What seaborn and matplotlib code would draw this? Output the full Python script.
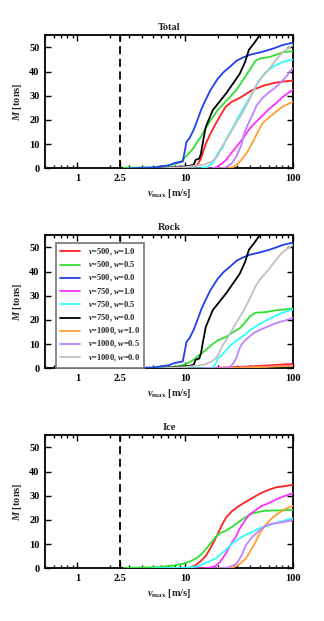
import numpy as np
import pandas as pd
import matplotlib
matplotlib.use("Agg")
import matplotlib.pyplot as plt
import seaborn as sns
from matplotlib.ticker import FixedLocator, NullFormatter

sns.set_theme(style="ticks")
plt.rcParams["font.family"] = ["Liberation Serif", "DejaVu Serif"]
plt.rcParams["font.weight"] = "bold"
plt.rcParams["mathtext.fontset"] = "custom"
plt.rcParams["mathtext.rm"] = "Liberation Serif:bold"
plt.rcParams["mathtext.it"] = "Liberation Serif:italic:bold"
plt.rcParams["mathtext.bf"] = "Liberation Serif:bold"

panels = ["Total", "Rock", "Ice"]
labels = ["v=500, w=1.0", "v=500, w=0.5", "v=500, w=0.0",
          "v=750, w=1.0", "v=750, w=0.5", "v=750, w=0.0",
          "v=1000, w=1.0", "v=1000, w=0.5", "v=1000, w=0.0"]
colors = ["#ff2020", "#30e030", "#2040f0", "#ff30ff", "#30ffff", "#000000",
          "#ffa030", "#c080ff", "#c0c0c0"]

# ---- w = 0.0 series (all rock; identical in Total and Rock) ----
blue_v = [3, 5, 7, 8, 9.5, 10, 10.3, 11, 12, 13, 14, 15, 17, 20, 23, 26, 30, 35, 40, 50, 60, 70, 80, 100]
blue_M = [0, 0.3, 1.2, 2.2, 2.8, 8, 11, 12.5, 16, 20, 24, 27, 32, 37, 40, 42, 44.5, 46, 47, 48, 49, 50, 51, 52]
black_v = [6, 10, 11, 12, 12.5, 13.5, 14, 14.5, 15.5, 18, 24, 32, 36, 39, 44, 50]
black_M = [0, 0.8, 1.0, 1.5, 3.5, 4, 6, 10, 17, 24, 31, 39, 44, 49, 52, 55.5]
gray_v = [6, 10, 15, 18, 20, 22, 25, 30, 35, 40, 45, 50, 60, 70, 80, 100]
gray_M = [0, 0.5, 1.5, 3, 5, 9, 13, 19, 24, 29, 34, 37, 41, 45, 48, 51]

# ---- Total ----
tot_red_v = [10, 12, 13, 14, 15.5, 17, 19.3, 21, 23.8, 27, 31.7, 36, 42, 55, 70, 85, 100]
tot_red_M = [0, 0.3, 1.5, 4, 10, 14, 18.6, 21.5, 25.5, 27.5, 29, 30.5, 32.4, 34.4, 35.5, 36, 36.3]
tot_green_v = [2.7, 5, 7, 8, 9, 10, 11, 12, 13, 14, 15, 17, 20, 23, 26, 30, 35, 40, 45, 50, 60, 70, 80, 100]
tot_green_M = [0.2, 0.4, 1, 1.8, 2.5, 4.5, 6.5, 8.5, 11, 13, 15.5, 19.5, 24, 27, 29.5, 32.5, 37, 41, 44.5, 45.5, 46, 47, 48, 48.5]
tot_magenta_v = [15, 18, 19.5, 22, 24, 27, 30, 34, 39, 45, 50, 60, 70, 80, 100]
tot_magenta_M = [0, 0, 0.5, 2, 3.5, 6.5, 9, 12, 16, 19, 21, 24.5, 27, 29.5, 32.5]
tot_cyan_v = [10, 14, 16, 18, 19, 20.5, 22, 24, 27, 31, 36, 42, 48, 55, 65, 80, 100]
tot_cyan_M = [0, 0, 0.5, 2, 4, 7, 8, 12, 16, 21, 26, 31, 36, 39.5, 42, 44, 45]
tot_orange_v = [20, 25, 28, 31, 34, 38, 42, 46, 52, 60, 70, 80, 100]
tot_orange_M = [0, 0, 0.5, 2, 4, 7, 10.5, 14, 18.5, 21, 23.5, 25.5, 27.5]
tot_purple_v = [18, 22, 24, 27, 30, 32, 33.5, 35, 38, 42, 46, 52, 60, 67, 75, 85, 100]
tot_purple_M = [0, 0, 0.5, 2, 5, 8, 10, 14, 18, 22, 26, 29, 31.5, 33, 35, 37.5, 41.5]

# ---- Rock ----
rock_red_v = [10, 15, 20, 30, 50, 100]
rock_red_M = [0, 0, 0.2, 0.5, 1.0, 1.8]
rock_green_v = [3, 8, 10, 12, 13.5, 15, 18, 20, 24, 28, 32, 36, 40, 45, 55, 70, 100]
rock_green_M = [0, 0.5, 1.5, 3.5, 5.5, 7, 10, 11.5, 13, 15, 16.5, 19, 21.5, 23, 23.2, 24, 24.7]
rock_magenta_v = [15, 20, 30, 50, 100]
rock_magenta_M = [0, 0.1, 0.3, 0.6, 1.2]
rock_cyan_v = [10, 15, 18, 19, 20, 22, 26.5, 30, 35, 40.6, 50, 62, 80, 100]
rock_cyan_M = [0, 0, 0.3, 1.5, 4, 5.5, 9.5, 11.5, 13.5, 16, 18.5, 20.8, 23, 24.3]
rock_orange_v = [20, 30, 50, 100]
rock_orange_M = [0, 0.2, 0.5, 1.0]
rock_purple_v = [15, 24, 26, 28, 30, 31.6, 33, 35, 38, 43.5, 50, 60, 70, 85, 100]
rock_purple_M = [0, 0, 0.5, 2, 4.5, 7.7, 9.5, 11, 12.5, 14.6, 16, 17.5, 18.7, 19.8, 20.8]

# ---- Ice ----
ice_red_v = [10, 11, 12.5, 14, 15.5, 17, 18.5, 20, 22, 24, 27, 31, 35, 40, 50, 60, 70, 85, 100]
ice_red_M = [0, 0.3, 1.2, 3, 5, 8, 11, 14, 18, 21, 23.5, 25.5, 27, 28.5, 31, 32.5, 33.5, 34, 34.5]
ice_green_v = [2.7, 6, 8, 10, 11, 12, 13.5, 15, 17, 19.3, 21, 23.8, 27, 31.7, 36, 42, 55, 100]
ice_green_M = [0.1, 0.5, 1.2, 2, 2.8, 3.5, 5, 7, 10, 13, 14.5, 15.5, 17, 19.3, 21, 22.7, 23.8, 24.1]
ice_magenta_v = [12, 15, 17, 19.3, 21, 23.8, 25.5, 27.5, 30, 31.7, 35, 39, 45, 50, 60, 70, 85, 100]
ice_magenta_M = [0, 0, 0.3, 1, 2.5, 6, 8.5, 11, 13.5, 16, 19, 22, 24, 25.5, 27, 28.5, 30, 31]
ice_cyan_v = [5, 10, 13, 16.7, 18, 19.3, 21, 23.8, 27.5, 31, 36.6, 42, 48.6, 58, 68, 80, 100]
ice_cyan_M = [0, 0.2, 0.7, 2.8, 3.5, 4, 5.5, 7.6, 10.3, 12, 13.8, 15, 16.5, 17.5, 18.6, 19.5, 20.7]
ice_orange_v = [20, 25, 27.5, 31.7, 36.6, 39, 44, 50, 56, 65, 75, 85, 100]
ice_orange_M = [0, 0, 0.3, 1.5, 4, 6, 10, 15, 18, 21, 23, 24.5, 25.8]
ice_purple_v = [18, 22, 25, 27.5, 30, 31.7, 34, 36.6, 42, 48.6, 55, 65, 80, 100]
ice_purple_M = [0, 0, 0.3, 1, 2, 3.5, 6, 9.5, 13, 15.5, 17.5, 18.5, 19, 20]

series = {
    "Total": [(tot_red_v, tot_red_M), (tot_green_v, tot_green_M), (blue_v, blue_M),
              (tot_magenta_v, tot_magenta_M), (tot_cyan_v, tot_cyan_M), (black_v, black_M),
              (tot_orange_v, tot_orange_M), (tot_purple_v, tot_purple_M), (gray_v, gray_M)],
    "Rock": [(rock_red_v, rock_red_M), (rock_green_v, rock_green_M), (blue_v, blue_M),
             (rock_magenta_v, rock_magenta_M), (rock_cyan_v, rock_cyan_M), (black_v, black_M),
             (rock_orange_v, rock_orange_M), (rock_purple_v, rock_purple_M), (gray_v, gray_M)],
    "Ice": [(ice_red_v, ice_red_M), (ice_green_v, ice_green_M), None,
            (ice_magenta_v, ice_magenta_M), (ice_cyan_v, ice_cyan_M), None,
            (ice_orange_v, ice_orange_M), (ice_purple_v, ice_purple_M), None],
}

rows = []
for p in panels:
    for lab, s in zip(labels, series[p]):
        if s is None:
            continue
        for v, m in zip(*s):
            rows.append((p, lab, v, m))
df = pd.DataFrame(rows, columns=["panel", "series", "v", "M"])

math_labels = {l: l.replace("v=", "$v$=").replace("w=", "$w$=") for l in labels}
df["series"] = df["series"].map(math_labels)
hue_order = [math_labels[l] for l in labels]
palette = dict(zip(hue_order, colors))

fig = plt.figure(figsize=(3.24, 6.21), dpi=100)
bottoms = [0.729, 0.407, 0.085]
FS = 7.5

for p, b in zip(panels, bottoms):
    ax = fig.add_axes([0.139, b, 0.765, 0.214])
    sub = df[df["panel"] == p]
    ax.axvline(2.5, color="black", lw=1.3, ls=(0, (4.5, 2.5)), zorder=1)
    sns.lineplot(data=sub, x="v", y="M", hue="series", hue_order=hue_order,
                 palette=palette, estimator=None, sort=True, lw=1.3,
                 legend=(p == "Rock"), ax=ax, zorder=3)
    ax.set_xscale("log")
    ax.set_xlim(0.5, 100)
    ax.set_ylim(0, 55)
    ax.xaxis.set_major_locator(FixedLocator([1, 2.5, 10, 100]))
    ax.set_xticklabels(["1", "2.5", "10", "100"], fontweight="bold")
    minors = [x * 10.0 ** e for e in (-1, 0, 1) for x in range(2, 10)]
    minors = [m for m in minors if 0.5 <= m <= 100 and m != 2.5]
    ax.xaxis.set_minor_locator(FixedLocator(minors))
    ax.xaxis.set_minor_formatter(NullFormatter())
    ax.set_yticks([0, 10, 20, 30, 40, 50])
    ax.set_yticklabels(["0", "10", "20", "30", "40", "50"], fontweight="bold")
    ax.tick_params(which="both", direction="in", top=True, right=True,
                   labelsize=FS, width=1.0, colors="black", pad=4)
    ax.tick_params(which="major", length=4)
    ax.tick_params(which="minor", length=2)
    for sp in ax.spines.values():
        sp.set_linewidth(1.3)
        sp.set_color("black")
    ax.set_title(p, fontsize=FS, fontweight="bold", pad=4)
    ax.set_xlabel(r"$v_{\mathbf{max}}$ [m/s]", fontsize=FS, fontweight="bold", labelpad=3)
    ax.set_ylabel(r"$M$ [tons]", fontsize=FS, fontweight="bold", labelpad=4)
    if p == "Rock":
        h, l = ax.get_legend_handles_labels()
        leg = ax.legend(h, l, loc="upper left", bbox_to_anchor=(0.045, 0.945),
                        prop={"size": 6, "weight": "bold"}, frameon=True,
                        fancybox=False, framealpha=1,
                        edgecolor="#808080", handlelength=2.3, labelspacing=0.25,
                        borderpad=0.5, handletextpad=1.0, borderaxespad=0)
        leg.get_frame().set_linewidth(1.3)
        leg.set_zorder(5)
        for line in leg.get_lines():
            line.set_linewidth(1.3)

fig.savefig("out.png", dpi=100)
